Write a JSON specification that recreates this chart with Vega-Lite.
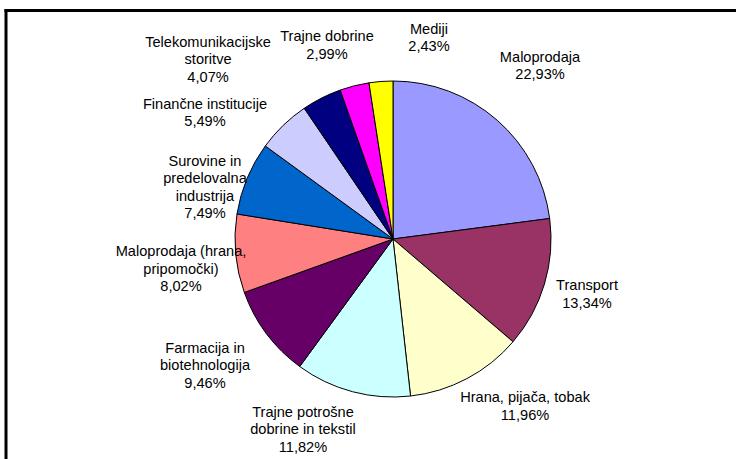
{
  "$schema": "https://vega.github.io/schema/vega-lite/v6.json",
  "width": 730.5,
  "height": 449,
  "autosize": "none",
  "padding": {"left": 5.5, "top": 10, "right": 0, "bottom": 0},
  "background": "white",
  "title": {
    "text": "Naložbe v delnice po panožnih skupinah",
    "anchor": "start",
    "font": "Liberation Sans",
    "fontSize": 18,
    "fontWeight": "bold",
    "color": "black",
    "baseline": "alphabetic",
    "offset": -4
  },
  "config": {
    "view": {"stroke": null},
    "text": {"font": "Liberation Sans"},
    "axis": {"domainColor": "black", "domainWidth": 3, "domainCap": "square", "ticks": false, "labels": false, "grid": false, "title": null}
  },
  "data": {
    "values": [
      {"order": 1, "sector": "Maloprodaja", "label": "Maloprodaja\n22,93%", "pct": 22.93},
      {"order": 2, "sector": "Transport", "label": "Transport\n13,34%", "pct": 13.34},
      {"order": 3, "sector": "Hrana, pijača, tobak", "label": "Hrana, pijača, tobak\n11,96%", "pct": 11.96},
      {"order": 4, "sector": "Trajne potrošne dobrine in tekstil", "label": "Trajne potrošne\ndobrine in tekstil\n11,82%", "pct": 11.82},
      {"order": 5, "sector": "Farmacija in biotehnologija", "label": "Farmacija in\nbiotehnologija\n9,46%", "pct": 9.46},
      {"order": 6, "sector": "Maloprodaja (hrana, pripomočki)", "label": "Maloprodaja (hrana,\npripomočki)\n8,02%", "pct": 8.02},
      {"order": 7, "sector": "Surovine in predelovalna industrija", "label": "Surovine in\npredelovalna\nindustrija\n7,49%", "pct": 7.49},
      {"order": 8, "sector": "Finančne institucije", "label": "Finančne institucije\n5,49%", "pct": 5.49},
      {"order": 9, "sector": "Telekomunikacijske storitve", "label": "Telekomunikacijske\nstoritve\n4,07%", "pct": 4.07},
      {"order": 10, "sector": "Trajne dobrine", "label": "Trajne dobrine\n2,99%", "pct": 2.99},
      {"order": 11, "sector": "Mediji", "label": "Mediji\n2,43%", "pct": 2.43}
    ]
  },
  "resolve": {"scale": {"theta": "independent", "radius": "independent"}},
  "layer": [
    {
      "mark": {"type": "point", "opacity": 0},
      "encoding": {
        "x": {"field": "order", "type": "quantitative", "axis": {"orient": "top"}},
        "y": {"field": "pct", "type": "quantitative", "axis": {"orient": "left"}}
      }
    },
    {
      "mark": {"type": "arc", "outerRadius": 158, "stroke": "black", "strokeWidth": 1, "xOffset": 22.25, "yOffset": 4.5},
      "encoding": {
        "theta": {"field": "pct", "type": "quantitative", "stack": true},
        "order": {"field": "order", "type": "quantitative"},
        "color": {
          "field": "sector",
          "type": "nominal",
          "legend": null,
          "scale": {
            "domain": ["Maloprodaja", "Transport", "Hrana, pijača, tobak", "Trajne potrošne dobrine in tekstil", "Farmacija in biotehnologija", "Maloprodaja (hrana, pripomočki)", "Surovine in predelovalna industrija", "Finančne institucije", "Telekomunikacijske storitve", "Trajne dobrine", "Mediji"],
            "range": ["#9999FF", "#993366", "#FFFFCC", "#CCFFFF", "#660066", "#FF8080", "#0066CC", "#CCCCFF", "#000080", "#FF00FF", "#FFFF00"]
          }
        }
      }
    },
    {
      "mark": {"type": "text", "lineBreak": "\n", "fontSize": 14.6, "lineHeight": 17.5, "color": "black", "align": "center", "baseline": "middle", "xOffset": 22.25, "yOffset": 4.5},
      "encoding": {
        "text": {"field": "label", "type": "nominal"},
        "theta": {
          "field": "order",
          "type": "quantitative",
          "stack": null,
          "scale": {
            "type": "linear",
            "zero": false,
            "nice": false,
            "domain": [1, 2, 3, 4, 5, 6, 7, 8, 9, 10, 11],
            "range": [0.6821, 1.8085, 2.4487, 3.619, 4.183, 4.6511, 5.1011, 5.3316, 5.5268, 5.9674, 6.4538]
          }
        },
        "radius": {
          "field": "order",
          "type": "quantitative",
          "scale": {
            "type": "linear",
            "zero": false,
            "nice": false,
            "domain": [1, 2, 3, 4, 5, 6, 7, 8, 9, 10, 11],
            "range": [233.2, 199.6, 206.7, 195.9, 217.8, 212.4, 203.2, 230.9, 269.5, 212.5, 212.1]
          }
        }
      }
    }
  ]
}
